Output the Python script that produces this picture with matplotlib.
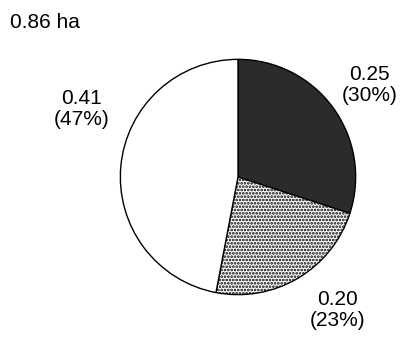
import matplotlib.pyplot as plt

# clockwise from top
areas = ["0.25", "0.20", "0.41"]
percents = [30, 23, 47]
total_label = "0.86 ha"

plt.rcParams['font.family'] = ['Liberation Sans', 'DejaVu Sans']
plt.rcParams['hatch.linewidth'] = 1.3

fig = plt.figure(figsize=(4.09, 3.5), dpi=100)
ax = fig.add_axes([118 / 409, 53 / 350, 240 / 409, 240 / 350])

wedges, _ = ax.pie(percents, startangle=90, counterclock=False, radius=1,
                   colors=['#2b2b2b', 'white', 'white'],
                   wedgeprops=dict(edgecolor='black', linewidth=1.0))
wedges[1].set_hatch('.....')

ax.set_xlim(-1.02, 1.02)
ax.set_ylim(-1.02, 1.02)
ax.set_aspect('equal')
ax.axis('off')

# label positions (data coords) for each slice
label_pos = [(1.12, 0.78), (0.85, -1.13), (-1.33, 0.58)]
for a, p, (x, y) in zip(areas, percents, label_pos):
    ax.text(x, y, f"{a}\n({p}%)", ha='center', va='center',
            fontsize=15, linespacing=1.15, clip_on=False)

fig.text(10 / 409, 1 - 22 / 350, total_label, ha='left', va='center', fontsize=15)

fig.savefig('out.png', dpi=100)
